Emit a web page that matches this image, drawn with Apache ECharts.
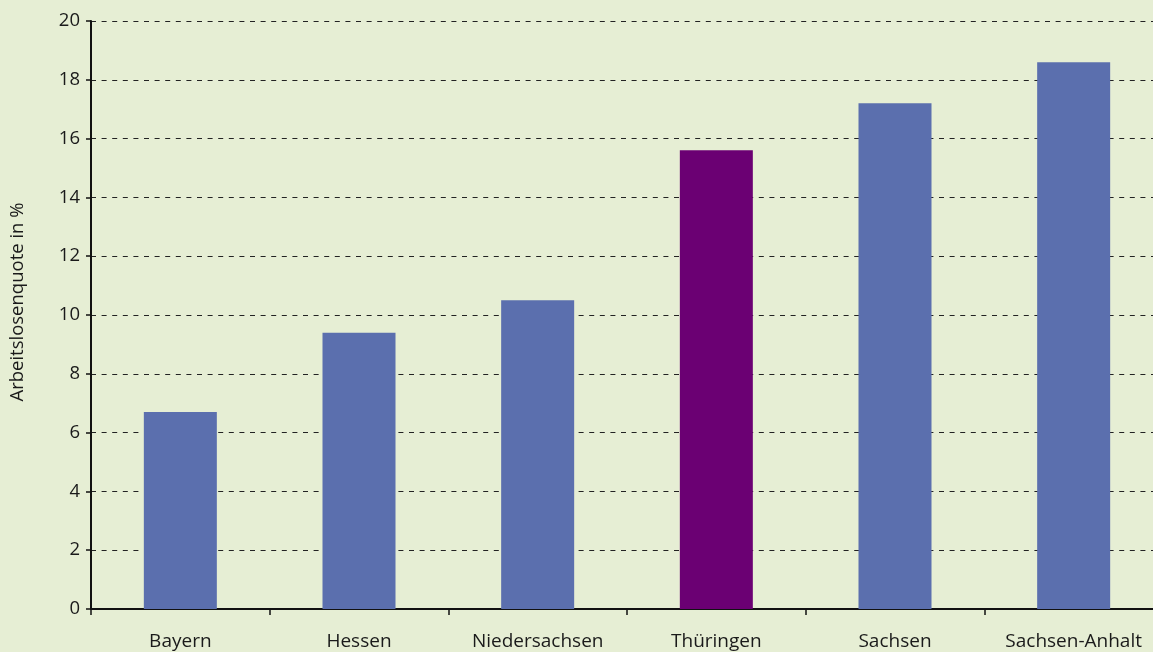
<!DOCTYPE html>
<html>
<head>
<meta charset="utf-8">
<script src="https://cdn.jsdelivr.net/npm/echarts@6/dist/echarts.min.js"></script>
<style>
  html, body { margin: 0; padding: 0; background: #e6eed4; overflow: hidden; }
  /* the plot runs a little past the right edge of the window */
  #chart { width: 1163px; height: 652px; }
</style>
</head>
<body>
<div id="chart"></div>
<script>
// Arbeitslosenquote nach Bundesland (in %)
const categories = ['Bayern', 'Hessen', 'Niedersachsen', 'Thüringen', 'Sachsen', 'Sachsen-Anhalt'];
const values = [6.7, 9.4, 10.5, 15.6, 17.2, 18.6];
const highlighted = 'Thüringen';

const blue = '#5b6fae';
const purple = '#6b0073';
const font = '"Open Sans", "Noto Sans", sans-serif';

const chart = echarts.init(document.getElementById('chart'), null, { renderer: 'canvas' });

chart.setOption({
  backgroundColor: '#e6eed4',
  animation: false,
  grid: { left: 91, right: 0, top: 21, bottom: 43, containLabel: false },
  xAxis: {
    type: 'category',
    data: categories,
    axisLine: { lineStyle: { color: '#111', width: 2 } },
    axisTick: { show: true, length: 6, lineStyle: { color: '#111', width: 1.5 } },
    axisLabel: { color: '#1a1a1a', fontSize: 19, fontFamily: font, margin: 23 }
  },
  yAxis: {
    type: 'value',
    min: 0,
    max: 20,
    interval: 2,
    name: 'Arbeitslosenquote in %',
    nameLocation: 'middle',
    nameGap: 64,
    nameTextStyle: { color: '#1a1a1a', fontSize: 18.5, fontFamily: font, padding: [0, 0, 0, 26] },
    axisLine: { show: true, lineStyle: { color: '#111', width: 2 } },
    axisTick: { show: true, inside: false, length: 5, lineStyle: { color: '#111', width: 1.5 } },
    axisLabel: { color: '#1a1a1a', fontSize: 18.5, fontFamily: font, margin: 11 },
    splitLine: { show: true, lineStyle: { color: '#222', width: 1.2, type: [5, 5.6] } }
  },
  series: [{
    type: 'bar',
    barWidth: 73,
    data: values.map((v, i) => ({
      value: v,
      itemStyle: { color: categories[i] === highlighted ? purple : blue }
    }))
  }]
});
</script>
</body>
</html>
